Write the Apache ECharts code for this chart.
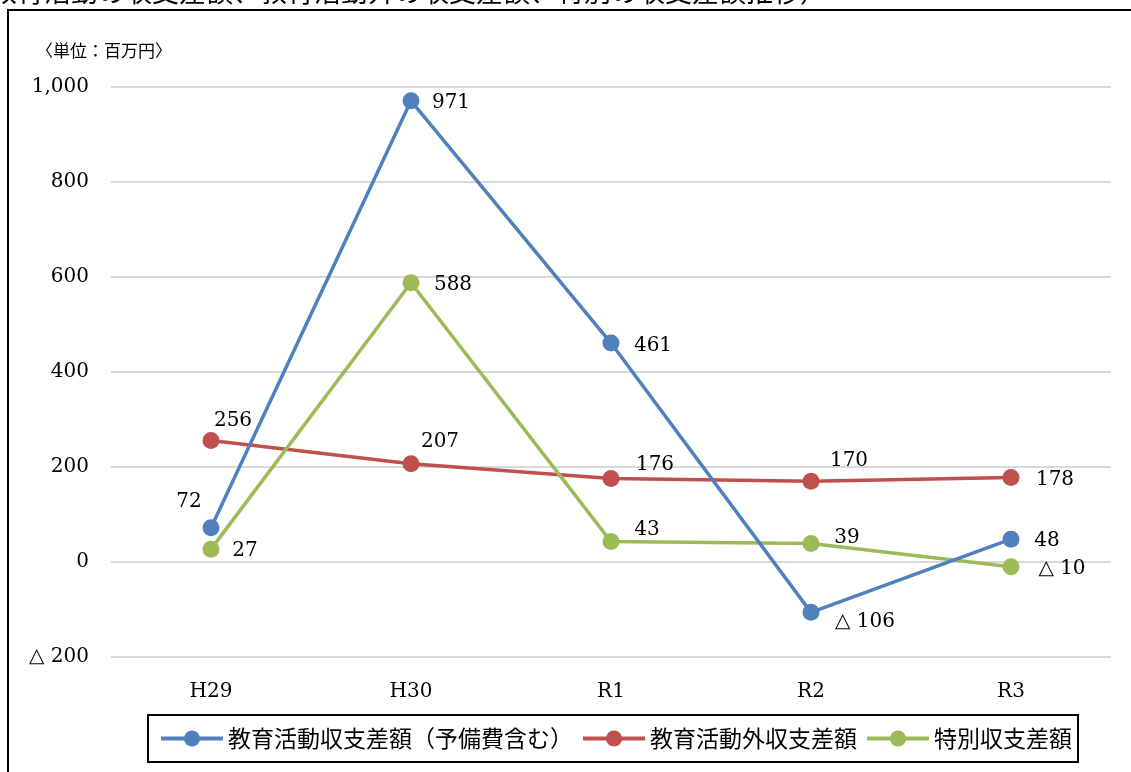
<!DOCTYPE html>
<html><head><meta charset="utf-8">
<script src="https://cdn.jsdelivr.net/npm/echarts@6/dist/echarts.min.js"></script>
<style>html,body{margin:0;padding:0;background:#fff}#c{width:1131px;height:772px}</style>
</head><body><div id="c"></div>
<script>
const categories = ['H29','H30','R1','R2','R3'];
const seriesNames = ['教育活動収支差額（予備費含む）','教育活動外収支差額','特別収支差額'];
const eduValues = [72, 971, 461, -106, 48];
const nonEduValues = [256, 207, 176, 170, 178];
const specialValues = [27, 588, 43, 39, -10];
const yTicks = [-200, 0, 200, 400, 600, 800, 1000];
const unitText = '〈単位：百万円〉';
const titleText = '教育活動の収支差額、教育活動外の収支差額、特別の収支差額推移）';

const serif = 'DejaVu Serif';
const jp = 'Noto Sans CJK JP';
const fmt = v => v < 0 ? '△ ' + Math.abs(v).toLocaleString('en-US') : v.toLocaleString('en-US');

const colors = ['#4F81BD', '#C0504D', '#9BBB59'];
const labelOffsets = [
  [[-22,-26],[40,2],[42,3],[54,9],[36,2]],
  [[22,-20],[29,-22],[44,-14],[38,-20],[44,2]],
  [[34,2],[42,2],[36,-12],[36,-6],[51,2]]
];
const allValues = [eduValues, nonEduValues, specialValues];

function mk(i){
  return {
    name: seriesNames[i], type: 'line', z: 3 + (i===0?2:i===2?1:0),
    data: allValues[i].map((v,j) => ({
      value: v,
      label: { show: true, position: 'inside', offset: labelOffsets[i][j] }
    })),
    symbol: 'circle', symbolSize: 17,
    lineStyle: { color: colors[i], width: 3.5 },
    itemStyle: { color: colors[i] },
    label: { formatter: p => fmt(p.value), color: '#000', fontFamily: serif, fontSize: 20 },
    emphasis: { disabled: true },
    animation: false
  };
}

const chart = echarts.init(document.getElementById('c'));
chart.setOption({
  animation: false,
  grid: { left: 111, right: 20, top: 87, bottom: 115 },
  xAxis: {
    type: 'category', data: categories, boundaryGap: true,
    axisLine: { show: false }, axisTick: { show: false },
    axisLabel: { color: '#000', fontFamily: serif, fontSize: 20, margin: 25 }
  },
  yAxis: {
    type: 'value', min: yTicks[0], max: yTicks[yTicks.length-1], interval: 200,
    axisLine: { show: false }, axisTick: { show: false },
    splitLine: { lineStyle: { color: '#D9D9D9', width: 2 } },
    axisLabel: { color: '#000', fontFamily: serif, fontSize: 20, margin: 22, formatter: v => fmt(v) }
  },
  legend: {
    data: seriesNames, left: 148, top: 715,
    borderColor: '#000', borderWidth: 2,
    padding: [12, 6, 12, 11],
    itemWidth: 62, itemHeight: 20, itemGap: 8,
    lineStyle: { width: 4 },
    textStyle: { fontFamily: jp, fontSize: 23, color: '#000' }
  },
  graphic: [
    { type: 'rect', shape: { x: 8, y: 10, width: 1140, height: 800 }, style: { fill: 'none', stroke: '#000', lineWidth: 2 }, silent: true },
    { type: 'text', left: 36, top: 42, style: { text: unitText, font: '17px "Noto Sans CJK JP"', fill: '#000' } },
    { type: 'text', left: -10, top: -22, style: { text: titleText, font: '27px "Noto Sans CJK JP"', fill: '#000' } }
  ],
  series: [mk(0), mk(1), mk(2)]
});
</script></body></html>
